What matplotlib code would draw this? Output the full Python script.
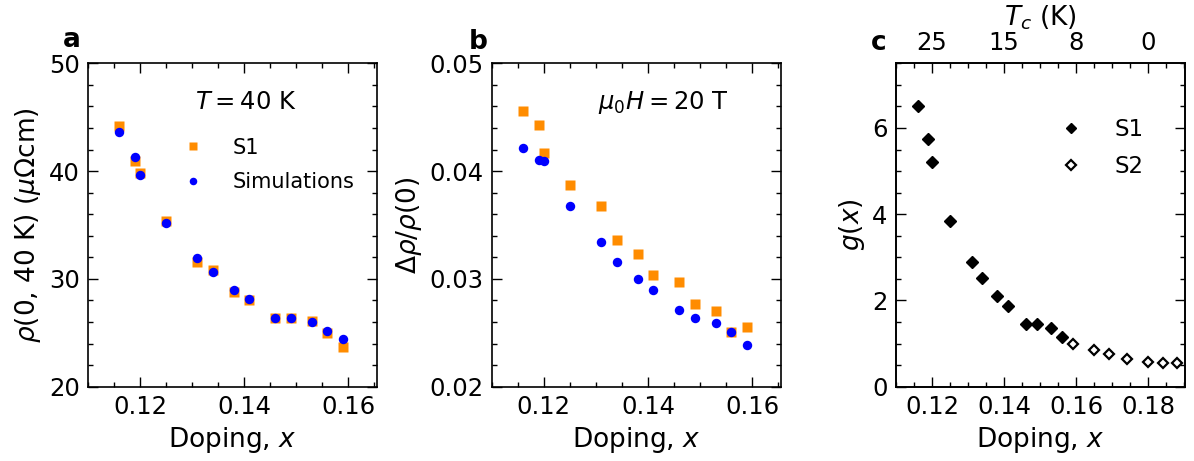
import matplotlib
matplotlib.use("Agg")
import matplotlib.pyplot as plt
from matplotlib.ticker import MultipleLocator

# ---- data ----
x_a = [0.116, 0.119, 0.120, 0.125, 0.131, 0.134, 0.138, 0.141, 0.146, 0.149, 0.153, 0.156, 0.159]
rho_s1 = [44.2, 40.9, 39.8, 35.4, 31.6, 30.8, 28.8, 28.0, 26.35, 26.35, 26.1, 25.0, 23.65]
rho_sim = [43.6, 41.3, 39.6, 35.2, 31.9, 30.6, 29.0, 28.1, 26.4, 26.4, 26.0, 25.2, 24.4]

mr_s1 = [0.0456, 0.0443, 0.0417, 0.0387, 0.0368, 0.0336, 0.0323, 0.0304, 0.0297, 0.0277, 0.0270, 0.0251, 0.0255]
mr_sim = [0.0421, 0.0410, 0.0409, 0.0368, 0.0334, 0.0316, 0.0300, 0.0290, 0.0271, 0.0264, 0.0259, 0.0251, 0.0239]

x_c_s1 = [0.116, 0.119, 0.120, 0.125, 0.131, 0.134, 0.138, 0.141, 0.146, 0.149, 0.153, 0.156]
g_s1 = [6.50, 5.75, 5.20, 3.85, 2.89, 2.52, 2.11, 1.87, 1.46, 1.46, 1.37, 1.16]
x_c_s2 = [0.159, 0.165, 0.169, 0.174, 0.180, 0.184, 0.188]
g_s2 = [1.00, 0.845, 0.75, 0.64, 0.57, 0.55, 0.54]

tc_ticks_x = [0.12, 0.14, 0.16, 0.18]
tc_labels = ["25", "15", "8", "0"]

ORANGE = "#ff8c00"
BLUE = "#0000ff"

plt.rcParams["font.family"] = ["DejaVu Sans"]
plt.rcParams["mathtext.fontset"] = "dejavusans"
plt.rcParams["axes.linewidth"] = 1.2

fig = plt.figure(figsize=(11.94, 4.61), dpi=100)
W, H = 1194.0, 461.0


def mk_ax(left_px, right_px, top_px=63.3, bottom_px=386.7):
    return fig.add_axes([left_px / W, 1 - bottom_px / H,
                         (right_px - left_px) / W, (bottom_px - top_px) / H])


def style(ax, top=True):
    ax.tick_params(which="both", direction="in", right=True, top=top,
                   labelsize=17.5, pad=6)
    ax.tick_params(which="major", length=7, width=1.0)
    ax.tick_params(which="minor", length=3.5, width=1.0)


# ---- panel a ----
axa = mk_ax(88, 376.7)
axa.plot(x_a, rho_s1, "s", color=ORANGE, ms=6.5, mec="none", label="S1")
axa.plot(x_a, rho_sim, "o", color=BLUE, ms=6.8, mec="none", label="Simulations")
axa.set_xlim(0.11, 0.1655)
axa.set_ylim(20, 50)
axa.xaxis.set_major_locator(MultipleLocator(0.02))
axa.xaxis.set_minor_locator(MultipleLocator(0.005))
axa.yaxis.set_major_locator(MultipleLocator(10))
axa.yaxis.set_minor_locator(MultipleLocator(2))
style(axa)
axa.set_xlabel("Doping, $x$", fontsize=19)
axa.set_ylabel(r"$\rho$(0, 40 K) ($\mu\Omega$cm)", fontsize=19, labelpad=4)
axa.text(0.545, 0.88, "$T = 40$ K", transform=axa.transAxes, fontsize=17.5,
         ha="center", va="center")
axa.legend(loc="upper left", bbox_to_anchor=(0.329, 0.77), frameon=False,
           fontsize=15, handlelength=1.0, handletextpad=1.4, labelspacing=0.68,
           borderaxespad=0, borderpad=0, markerscale=0.8)
fig.text(71.7 / W, 1 - 40 / H, "a", fontsize=19, fontweight="bold",
         ha="center", va="center")

# ---- panel b ----
axb = mk_ax(491.7, 780.7)
axb.plot(x_a, mr_s1, "s", color=ORANGE, ms=6.5, mec="none")
axb.plot(x_a, mr_sim, "o", color=BLUE, ms=6.8, mec="none")
axb.set_xlim(0.11, 0.1655)
axb.set_ylim(0.02, 0.05)
axb.xaxis.set_major_locator(MultipleLocator(0.02))
axb.xaxis.set_minor_locator(MultipleLocator(0.005))
axb.yaxis.set_major_locator(MultipleLocator(0.01))
axb.yaxis.set_minor_locator(MultipleLocator(0.002))
style(axb)
axb.set_xlabel("Doping, $x$", fontsize=19)
axb.set_ylabel(r"$\Delta\rho/\rho(0)$", fontsize=19, labelpad=4)
axb.text(0.595, 0.88, r"$\mu_0H = 20$ T", transform=axb.transAxes, fontsize=17.5,
         ha="center", va="center")
fig.text(478 / W, 1 - 41.7 / H, "b", fontsize=19, fontweight="bold",
         ha="center", va="center")

# ---- panel c ----
axc = mk_ax(896, 1185)
axc.plot(x_c_s1, g_s1, "D", color="black", ms=6.0, mec="black", label="S1")
axc.plot(x_c_s2, g_s2, "D", color="black", mfc="white", ms=5.6, mew=1.6,
         label="S2")
axc.set_xlim(0.11, 0.1902)
axc.set_ylim(0, 7.5)
axc.xaxis.set_major_locator(MultipleLocator(0.02))
axc.xaxis.set_minor_locator(MultipleLocator(0.005))
axc.yaxis.set_major_locator(MultipleLocator(2))
axc.yaxis.set_minor_locator(MultipleLocator(0.5))
style(axc, top=False)
axc.set_xlabel("Doping, $x$", fontsize=19)
axc.set_ylabel("$g(x)$", fontsize=19, labelpad=4)
axc.legend(loc="upper left", bbox_to_anchor=(0.566, 0.83), frameon=False,
           fontsize=16.5, handlelength=1.0, handletextpad=1.4, labelspacing=0.6,
           borderaxespad=0, borderpad=0, markerscale=0.85)

axt = axc.twiny()
axt.set_xlim(axc.get_xlim())
axt.set_xticks(tc_ticks_x)
axt.set_xticklabels(tc_labels)
axt.xaxis.set_minor_locator(MultipleLocator(0.005))
axt.tick_params(which="both", direction="in", labelsize=17.5, pad=6)
axt.tick_params(which="major", length=7, width=1.0)
axt.tick_params(which="minor", length=3.5, width=1.0)
axt.set_xlabel("$T_c$ (K)", fontsize=19, labelpad=4)
fig.text(879 / W, 1 - 43.3 / H, "c", fontsize=19, fontweight="bold",
         ha="center", va="center")

fig.savefig("out.png", dpi=100)
